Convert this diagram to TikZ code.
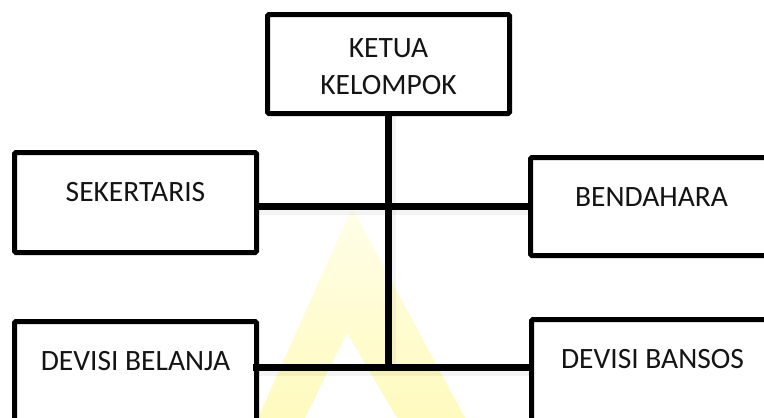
\documentclass[tikz,border=0pt]{standalone}
\usepackage{fontspec}
\setmainfont{Carlito}
\definecolor{letterTop}{RGB}{255,254,232}
\definecolor{letterBottom}{RGB}{255,250,190}
\begin{document}
\begin{tikzpicture}[x=1pt,y=-1pt,
  orgbox/.style={draw=black, line width=5pt, rounded corners=1.5pt, fill=white,
    minimum width=242pt, minimum height=100pt, inner sep=0pt, outer sep=0pt,
    anchor=north west},
  lbl/.style={font=\fontsize{29.5}{37}\selectfont, inner sep=0pt, anchor=base,
    text=black!92},
  link/.style={line width=7.5pt, draw=black},
  linkshade/.style={line width=11pt, draw=black, opacity=0.045},
  bgletter/.style={top color=letterTop, bottom color=letterBottom, even odd rule}]
\useasboundingbox (0,0) rectangle (764,418);
\clip (0,0) rectangle (764,418);
\fill[white] (0,0) rectangle (764,418);

% pale letter A in the background
\shade[bgletter] (352,208) -- (465,418) -- (258,418) -- cycle
                 (347,333) -- (397,418) -- (305,418) -- cycle;

% boxes
\node[orgbox, minimum height=99pt] (ketua) at (267.5,14.5) {};
\node[orgbox] (sek) at (14.5,152.5) {};
\node[orgbox, minimum height=98pt] (bend) at (530.5,157.5) {};
\node[orgbox, minimum height=110pt] (belanja) at (14.5,321.5) {};
\node[orgbox, minimum height=110pt] (bansos) at (531.5,319.5) {};

% labels
\node[lbl] (ketuaA) at ([yshift=-43pt]ketua.north) {KETUA};
\node[lbl] (ketuaB) at ([yshift=-80pt]ketua.north) {KELOMPOK};
\node[lbl] (sekT) at ([yshift=-49pt]sek.north) {SEKERTARIS};
\node[lbl] (bendT) at ([yshift=-49pt]bend.north) {BENDAHARA};
\node[lbl] (belanjaT) at ([yshift=-49pt]belanja.north) {DEVISI BELANJA};
\node[lbl] (bansosT) at ([yshift=-49pt]bansos.north) {DEVISI BANSOS};

% connectors
\coordinate (lowbus) at (388.5,367.5);
\draw[linkshade] ([yshift=-3pt]sek.east |- bend.west) -- ([yshift=-3pt]bend.west);
\draw[linkshade] ([shift={(-4pt,-3pt)}]belanja.east |- lowbus) -- ([yshift=-3pt]bansos.west |- lowbus);
\draw[linkshade] ([xshift=2pt]ketua.south) -- ([xshift=2pt]ketua.south |- lowbus);
\draw[link] (sek.east |- bend.west) -- (bend.west);
\draw[link] ([xshift=-4pt]belanja.east |- lowbus) -- (bansos.west |- lowbus);
\draw[link] (ketua.south) -- (ketua.south |- lowbus);
\end{tikzpicture}
\end{document}
